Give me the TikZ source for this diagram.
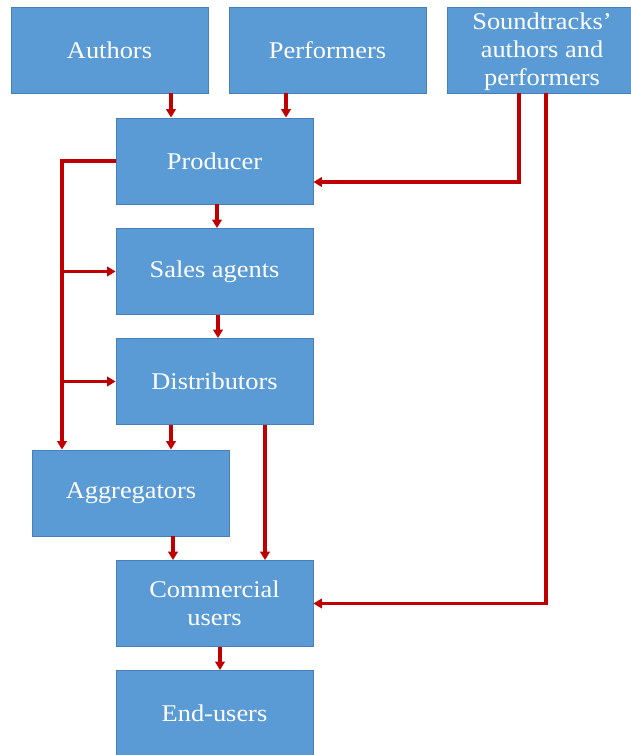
\documentclass[tikz,border=0pt]{standalone}
\usepackage{fontspec}
\setmainfont{Liberation Serif}[FakeStretch=1.1]
\usetikzlibrary{arrows.meta}
\definecolor{boxfill}{HTML}{5B9BD5}
\definecolor{boxline}{HTML}{4A7EBB}
\definecolor{flow}{HTML}{C00000}
\begin{document}
\begin{tikzpicture}[x=1pt,y=-1pt,
  box/.style={draw=boxline, line width=0.8pt, fill=boxfill, text=white,
    minimum width=197pt, minimum height=86pt, inner sep=2pt, align=center,
    font=\fontsize{24}{28}\selectfont},
  arr/.style={draw=flow, line width=3.2pt,
    -{Triangle[length=8.5pt,width=9.5pt]}}]
\useasboundingbox (0,0) rectangle (631,755);
\begin{scope}
\clip (0,0) rectangle (631,755);
% sources
\node[box] (auth) at (109.5,50) {Authors};
\node[box] (perf) at (327.5,50) {Performers};
\node[box] (snd)  at (545.5,50) {};
\node[text=white, align=center, font=\fontsize{24}{28}\selectfont] (sndtxt) at (542,52) {Soundtracks’\\authors and\\performers};
% chain
\node[box] (prod)  at (214.5,161)   {Producer};
\node[box] (sales) at (214.5,271.5) {Sales agents};
\node[box] (dist)  at (214.5,381.5) {Distributors};
\node[box] (agg)   at (131,493)     {Aggregators};
\node[box] (comm)  at (214.5,603.5) {Commercial\\users};
\node[box] (end)   at (214.5,713.5) {End-users};
\end{scope}
\coordinate (bus) at (62,0);
% connectors
\draw[arr] (auth.south -| 171,0) -- (prod.north -| 171,0);
\draw[arr] (perf.south -| 286,0) -- (prod.north -| 286,0);
\draw[arr] (snd.south -| 519,0) |- ([yshift=-21pt]prod.east);
\draw[arr] (snd.south -| 546,0) |- (comm.east);
\draw[arr] (prod.south -| 217,0) -- (sales.north -| 217,0);
\draw[arr] (sales.south -| 218,0) -- (dist.north -| 218,0);
\draw[arr] (prod.west) -| (agg.north -| bus);
\draw[arr] (sales.west -| bus) -- (sales.west);
\draw[arr] (dist.west -| bus) -- (dist.west);
\draw[arr] (dist.south -| 171,0) -- (agg.north -| 171,0);
\draw[arr] (dist.south -| 265,0) -- (comm.north -| 265,0);
\draw[arr] (agg.south -| 173,0) -- (comm.north -| 173,0);
\draw[arr] (comm.south -| 220,0) -- (end.north -| 220,0);
\end{tikzpicture}
\end{document}
